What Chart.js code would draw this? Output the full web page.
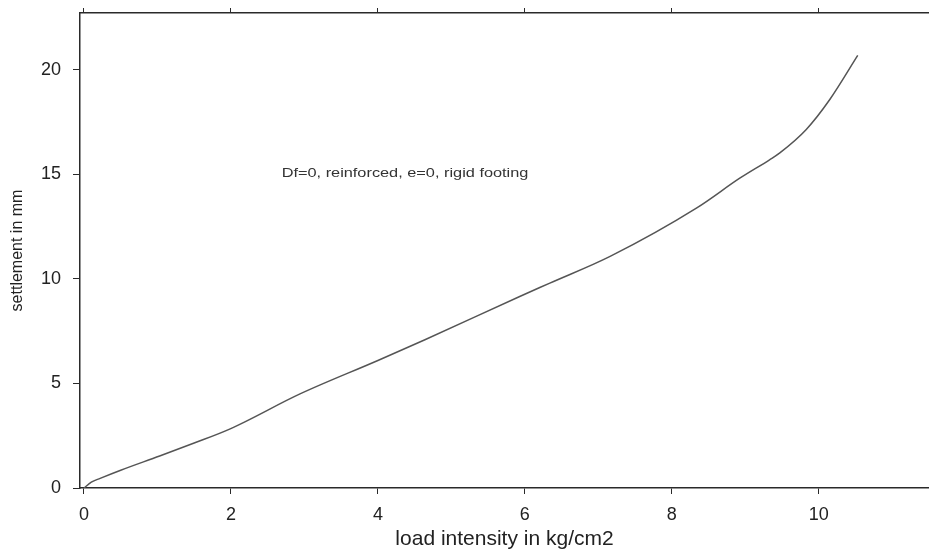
<!DOCTYPE html>
<html>
<head>
<meta charset="utf-8">
<script src="https://cdn.jsdelivr.net/npm/chart.js@4/dist/chart.umd.min.js"></script>
<style>
  html, body { margin: 0; padding: 0; background: #fff; }
  #wrap { width: 929px; height: 550px; position: relative; }
</style>
</head>
<body>
<div id="wrap"><canvas id="c" width="929" height="550"></canvas></div>
<script>
// Data
const loadIntensity = [0, 0.1, 0.22, 0.5, 1.03, 1.5, 1.99, 2.94, 4.0, 4.64, 5.93, 6.34, 7.16, 8.34, 8.93, 9.33, 9.47, 9.83, 10.15, 10.53];
const settlement    = [0, 0.28, 0.46, 0.85, 1.53, 2.15, 2.83, 4.5, 6.1, 7.09, 9.16, 9.8, 11.08, 13.4, 14.83, 15.7, 16.03, 17.15, 18.58, 20.69];
const xTickValues = [0, 2, 4, 6, 8, 10];
const yTickValues = [0, 5, 10, 15, 20];
const xTitle = 'load intensity in kg/cm2';
const yTitle = 'settlement in mm';
const annotationText = 'Df=0, reinforced, e=0, rigid footing';
const annotationAt = { x: 2.69, y: 15.04 };

const FONT = "'Liberation Sans', Arial, sans-serif";
const AXIS = '#2a2a2a';

const points = loadIntensity.map((x, i) => ({ x: x, y: settlement[i] }));

const annotate = {
  id: 'annotate',
  afterDatasetsDraw(chart) {
    const { ctx, scales } = chart;
    const px = scales.x.getPixelForValue(annotationAt.x);
    const py = scales.y.getPixelForValue(annotationAt.y);
    ctx.save();
    ctx.font = '12px ' + FONT;
    ctx.fillStyle = '#333';
    ctx.textAlign = 'left';
    ctx.textBaseline = 'middle';
    ctx.translate(px, py);
    ctx.scale(1.36, 1);
    ctx.fillText(annotationText, 0, 0);
    ctx.restore();
  }
};

new Chart(document.getElementById('c'), {
  type: 'scatter',
  data: {
    datasets: [{
      data: points,
      showLine: true,
      borderColor: '#555',
      borderWidth: 1.5,
      pointRadius: 0,
      cubicInterpolationMode: 'monotone',
      fill: false
    }]
  },
  options: {
    responsive: false,
    animation: false,
    layout: { padding: { left: 0, right: 0, top: 0, bottom: 0 } },
    plugins: { legend: { display: false }, tooltip: { enabled: false } },
    scales: {
      x: {
        type: 'linear',
        position: 'bottom',
        min: -0.054,
        max: 11.5,
        afterBuildTicks: (s) => { s.ticks = xTickValues.map(v => ({ value: v })); },
        afterFit: (s) => { s.height = 62; },
        border: { display: true, color: AXIS, width: 1.5 },
        grid: { drawOnChartArea: false, drawTicks: true, tickLength: 6, color: AXIS, lineWidth: 1 },
        ticks: { color: '#222', font: { family: FONT, size: 18 }, padding: 10, maxRotation: 0 },
        title: { display: true, text: xTitle, color: '#222', font: { family: FONT, size: 21, lineHeight: 1 }, padding: { top: 0, bottom: 0 } }
      },
      x2: {
        type: 'linear',
        position: 'top',
        min: -0.054,
        max: 11.5,
        afterBuildTicks: (s) => { s.ticks = xTickValues.map(v => ({ value: v })); },
        afterFit: (s) => { s.height = 13; },
        border: { display: true, color: AXIS, width: 1.5 },
        grid: { drawOnChartArea: false, drawTicks: true, tickLength: 5, color: AXIS, lineWidth: 1 },
        ticks: { display: false }
      },
      y: {
        type: 'linear',
        min: 0,
        max: 22.72,
        afterBuildTicks: (s) => { s.ticks = yTickValues.map(v => ({ value: v })); },
        afterFit: (s) => { s.width = 80; s.paddingTop = 0; s.paddingBottom = 0; },
        border: { display: true, color: AXIS, width: 1.5 },
        grid: { drawOnChartArea: false, drawTicks: true, tickLength: 7, color: AXIS, lineWidth: 1 },
        ticks: { color: '#222', font: { family: FONT, size: 18, lineHeight: 0.5 }, padding: 12 },
        title: { display: true, text: yTitle, color: '#222', font: { family: FONT, size: 16 }, padding: { top: 8, bottom: 0 } }
      }
    }
  },
  plugins: [annotate]
});
</script>
</body>
</html>
